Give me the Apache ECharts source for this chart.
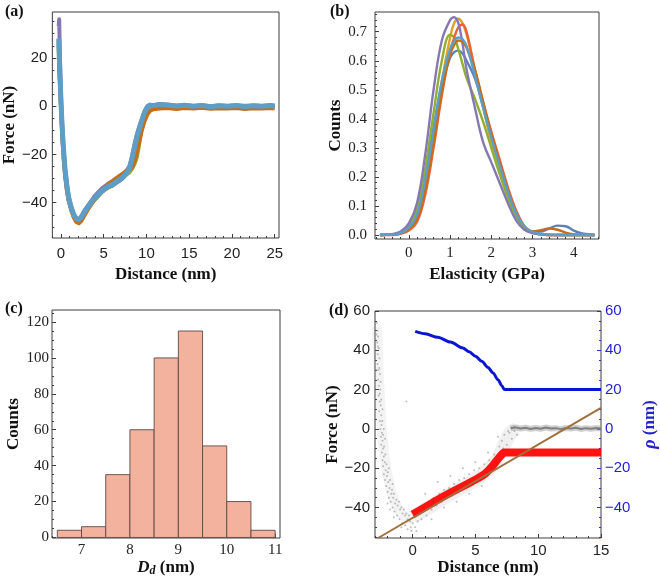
<!DOCTYPE html>
<html><head><meta charset="utf-8">
<script src="https://cdn.jsdelivr.net/npm/echarts@6/dist/echarts.min.js"></script>
<style>html,body{margin:0;padding:0;background:#fff}#c{width:660px;height:585px}</style>
</head><body><div id="c"></div><script>
// ---------- Panel (a): force curves ----------
const distA = [-0.25,-0.2,-0.1,0,0.1,0.2,0.35,0.5,0.7,0.9,1.2,1.5,1.8,2.1,2.4,2.8,3.2,3.6,4.0,4.4,4.8,5.2,5.6,6.0,6.4,6.8,7.2,7.6,8.0,8.3,8.6,8.9,9.2,9.5,9.8,10.1,10.4,10.8,11.5,12.5,13.5,14.5,15.5,16.5,17.5,18.5,19.5,20.5,21.5,22.5,23.5,24.5,25];
const forceBlue = [27,20,11,2,-6,-13,-21,-28,-34,-38.5,-42.5,-45.5,-47,-47.5,-46.5,-44,-42,-40,-38.5,-37,-35.5,-34.5,-33.5,-33,-32,-31,-30,-28.5,-26.5,-23,-18,-13.5,-9.5,-6,-3,-1,0,0,0.5,0.3,0,0.3,-0.1,0.2,0,0.1,-0.2,0.2,0,0.1,-0.1,0.2,0];
const forceGreen = [26,20,10,1,-7,-14,-22,-28,-34,-38.5,-42.5,-45.5,-47.5,-48,-47,-44.5,-42,-40,-38.5,-37,-35.5,-34.5,-33.5,-32.5,-31.5,-30.5,-29.5,-28.5,-27.5,-26,-24,-21,-14.5,-7.5,-3,-1,0,0.2,0.3,0.1,0,0.2,-0.1,0.1,0,0.2,-0.1,0,0.2,0,0.1,0,0.1];
const forcePurple = [33,36,18,5,-4,-11,-19,-26,-32,-37,-41.5,-44.5,-46.5,-47,-45.5,-43,-41,-39,-37,-35.5,-34,-33,-32,-31.5,-30.5,-29.5,-28.5,-27,-25,-21,-16,-11.5,-8,-5,-2,0,0.6,0.4,0.8,0.6,0.2,0.5,0.1,0.4,0,0.3,0.1,0.4,0,0.3,0.1,0.4,0.2];
const forceOrange = [25,17,8,0,-8,-15,-23,-29,-35,-39,-43,-46,-48,-48.5,-47.5,-45,-42.5,-40.5,-38.5,-36.5,-35,-33.5,-32,-31,-30,-29,-28,-27,-26.5,-25.5,-23,-19,-14,-9.5,-6,-3.5,-2,-1.3,-1,-0.8,-1.2,-0.8,-1,-0.7,-1.1,-0.9,-1,-0.8,-1.2,-0.9,-1,-0.8,-1];
const forceLightBlue = [28,22,12,3,-5,-12,-20,-27,-33,-38,-42,-45,-46.5,-47,-46,-43.5,-41.5,-39.5,-38,-36.5,-35,-34,-33,-32.5,-31.5,-30.5,-29.5,-28,-26,-22,-17,-12.5,-9,-5.5,-2.5,-0.5,0.4,0.2,0.7,0.5,0.1,0.4,0,0.3,-0.2,0.2,0,0.3,-0.1,0.2,0,0.3,0];
const xTicksA = [0,5,10,15,20,25];
const yTicksA = [-40,-20,0,20];

// ---------- Panel (b): elasticity distributions ----------
const elastX = [-0.7,-0.4,-0.2,0,0.2,0.4,0.6,0.8,1.0,1.1,1.2,1.3,1.4,1.6,1.8,2.0,2.2,2.4,2.6,2.8,3.0,3.2,3.4,3.6,3.8,4.0,4.2,4.5];
const distBlue   = [0,0.001,0.007,0.03,0.08,0.2,0.37,0.52,0.61,0.63,0.635,0.625,0.6,0.54,0.44,0.33,0.23,0.14,0.07,0.028,0.012,0.012,0.022,0.032,0.03,0.015,0.005,0];
const distYellow = [0,0.001,0.005,0.02,0.06,0.17,0.34,0.53,0.68,0.73,0.745,0.73,0.69,0.57,0.44,0.32,0.22,0.13,0.065,0.025,0.008,0.002,0,0,0,0,0,0];
const distGreen  = [0,0.002,0.008,0.03,0.09,0.23,0.42,0.6,0.69,0.68,0.64,0.59,0.54,0.47,0.39,0.3,0.21,0.13,0.065,0.025,0.008,0.002,0,0,0,0,0,0];
const distRed    = [0,0,0.004,0.015,0.045,0.14,0.3,0.48,0.63,0.68,0.715,0.725,0.7,0.57,0.455,0.355,0.26,0.165,0.085,0.03,0.008,0.002,0,0,0,0,0,0];
const distPurple = [0,0.003,0.012,0.04,0.11,0.28,0.5,0.67,0.74,0.75,0.73,0.66,0.57,0.44,0.32,0.25,0.18,0.11,0.05,0.018,0.006,0.002,0,0,0,0,0,0];
const distOrange = [0,0.001,0.005,0.02,0.055,0.16,0.32,0.5,0.62,0.655,0.67,0.665,0.645,0.57,0.46,0.35,0.25,0.155,0.08,0.03,0.012,0.016,0.022,0.018,0.008,0.002,0,0];
const distCyan   = [0,0.001,0.006,0.025,0.07,0.19,0.36,0.53,0.64,0.67,0.68,0.675,0.65,0.55,0.44,0.335,0.24,0.15,0.075,0.03,0.01,0.004,0.001,0,0,0,0,0];
const xTicksB = [0,1,2,3,4];
const yTicksB = [0,0.1,0.2,0.3,0.4,0.5,0.6,0.7];

// ---------- Panel (c): histogram ----------
const binEdgesC = [6.5,7,7.5,8,8.5,9,9.5,10,10.5,11];
const countsC = [4,6,35,60,100,115,51,20,4];
const xTicksC = [7,8,9,10,11];
const yTicksC = [0,20,40,60,80,100,120];

// ---------- Panel (d): fit ----------
const scatterD = [[-2.85,54],[-2.8,50],[-2.75,47],[-2.82,44],[-2.7,41],[-2.78,38],[-2.65,36],[-2.8,33],[-2.72,30],[-2.6,28],[-2.75,25],[-2.68,22],[-2.58,20],[-2.7,17],[-2.62,14],[-2.55,12],[-2.66,9],[-2.5,7],[-2.6,4],[-2.48,2],[-2.57,0],[-2.45,-2],[-2.52,-4],[-2.4,-6],[-2.5,-8],[-2.35,-10],[-2.45,-12],[-2.3,-14],[-2.4,-16],[-2.22,-17],[-2.35,-19],[-2.15,-21],[-2.3,-23],[-2.05,-24],[-2.2,-26],[-1.95,-27],[-2.1,-29],[-1.85,-30],[-2.0,-32],[-1.7,-33],[-1.9,-35],[-1.55,-35],[-1.75,-37],[-1.4,-38],[-1.6,-40],[-1.2,-39],[-1.45,-42],[-1.0,-41],[-1.25,-44],[-0.8,-43],[-1.05,-46],[-0.6,-44],[-0.85,-48],[-0.4,-46],[-0.6,-49],[-0.2,-47],[-0.4,-51],[0,-48],[-0.1,-52],[0.2,-50],[0.4,-47],[0.3,-52],[-2.4,10],[-2.2,-5],[-1.9,-20],[-1.6,-28],[-0.5,14],[-2.9,30],[-2.3,0],
[0.5,-41],[0.7,-46],[0.9,-40],[1.1,-44],[1.3,-37],[1.5,-41],[1.7,-35],[1.9,-39],[2.1,-33],[2.3,-37],[2.5,-31],[2.7,-35],[2.9,-30],[3.1,-34],[3.3,-28],[3.5,-32],[3.7,-26],[3.9,-31],[4.1,-25],[4.3,-29],[4.5,-23],[4.7,-27],[4.9,-21],[5.1,-26],[5.3,-20],[5.5,-24],[5.7,-18],[5.9,-22],[6.1,-16],[6.3,-20],[6.5,-13],[6.7,-17],[6.9,-9],[7.1,-6],[7.3,-3],[7.5,-8],[7.7,-2],[7.9,-5],[8.1,-1],[2,-27],[3,-24],[4,-20],[1,-33],[5,-17],[6,-12],[6.8,-4],[7.2,-10],[7.6,-1],[8.3,-3],[1.5,-46],[2.5,-40],[3.5,-37],[4.5,-33],[5.5,-29],
[-2.88,48],[-2.77,42],[-2.66,31],[-2.55,24],[-2.62,18],[-2.5,15],[-2.42,4],[-2.36,-3],[-2.28,-9],[-2.18,-13],[-2.08,-18],[-1.98,-22],[-1.8,-26],[-1.65,-31],[-1.5,-33],[-1.3,-36],[-1.1,-37],[-0.9,-40],[-0.7,-41],[-0.5,-43],[-0.3,-44],[-0.15,-50],[0.1,-45],[-1.5,-45],[-1.8,-41],[-2.0,-38],[-0.9,-50]];
const bandUpX = [0,1,2,3,4,5,6,6.8,7.3,7.8,8.3];
const bandUpY = [-45,-41,-37,-33,-29.5,-26,-21,-15,-8,-2,0];
const bandDownX = [-2.85,-2.75,-2.6,-2.4,-2.1,-1.7,-1.2,-0.6,0];
const bandDownY = [52,35,15,-5,-20,-32,-40,-45,-46];
const plateauX = [7.8,8.2,8.6,9,9.4,9.8,10.2,10.6,11,11.4,11.8,12.2,12.6,13,13.4,13.8,14.2,14.6,15];
const plateauY = [0.3,0.8,0.2,0.6,0,0.5,0.1,0.7,0.2,0.4,-0.1,0.5,0.2,0.6,0,0.4,0.1,0.5,0.2];
const fitX = [0,1,2,3,4,5,5.8,6.4,6.9,7.3,15];
const fitY = [-43.5,-39.8,-36,-32.5,-29.2,-25.8,-22.6,-18.5,-14.5,-12,-12];
const lineX = [-2.75,15];
const lineY = [-55.5,10.7];
const rhoX = [0.2,1,2,3,4,4.5,5,5.5,6,6.4,6.8,7.1,7.3,15];
const rhoY = [49.6,48.4,46.6,44.2,41.2,39.3,37,34.4,31.3,28.5,25,22,20,20];
const xTicksD = [0,5,10,15];
const yTicksD = [-40,-20,0,20,40,60];

// ---------- helpers ----------
const zip = (xs, ys) => xs.map((x, i) => [x, ys[i]]);
function range(a, b, s) { const r = []; for (let v = a; v <= b + 1e-9; v += s) r.push(+v.toFixed(4)); return r; }
const SANS = "'Liberation Sans', Arial, sans-serif";
const SERIF = "'Liberation Serif', 'Times New Roman', serif";
const FRAME = '#3c3c3c';
const titleStyle = { fontFamily: SERIF, fontWeight: 'bold', fontSize: 17, color: '#111' };
const fmt = d => v => (d ? v.toFixed(d) : String(Math.round(v))).replace('-', '\u2212');

const xAxes = [], yAxes = [];
function addAxes(list, o) {
  const base = { type: 'value', gridIndex: o.gi, position: o.pos, min: o.min, max: o.max,
    axisLine: { show: false, onZero: false }, splitLine: { show: false } };
  const idx = list.length;
  list.push(Object.assign({}, base, {
    axisTick: { show: true, inside: true, length: 4, customValues: o.major, lineStyle: { color: o.tickColor || FRAME, width: 1 } },
    axisLabel: { show: true, customValues: o.major, formatter: fmt(o.dec || 0), fontFamily: o.font, fontSize: 15,
      color: o.labelColor || '#222', margin: o.margin },
    name: o.name, nameLocation: 'middle', nameGap: o.nameGap, nameRotate: o.nameRotate,
    nameTextStyle: Object.assign({}, titleStyle, o.nameStyle || {})
  }));
  list.push(Object.assign({}, base, {
    axisTick: { show: true, inside: true, length: 2, customValues: o.minor, lineStyle: { color: o.tickColor || FRAME, width: 1 } },
    axisLabel: { show: false }
  }));
  return idx;
}

const grids = [
  { left: 52, top: 12, width: 227, height: 226 },
  { left: 375, top: 12, width: 224, height: 227 },
  { left: 52, top: 310, width: 228, height: 228 },
  { left: 375, top: 311, width: 227, height: 227 }
].map(g => Object.assign(g, { show: true, borderColor: FRAME, borderWidth: 1, backgroundColor: 'transparent', containLabel: false }));

// (a)
const xa = addAxes(xAxes, { gi: 0, pos: 'bottom', min: -1, max: 25.5, major: xTicksA, minor: range(-1, 25, 1), font: SANS, margin: 8, name: 'Distance (nm)', nameGap: 28 });
const ya = addAxes(yAxes, { gi: 0, pos: 'left', min: -54.6, max: 39, major: yTicksA, minor: range(-50, 35, 5), font: SANS, margin: 5, name: 'Force (nN)', nameGap: 34 });
// (b)
const xb = addAxes(xAxes, { gi: 1, pos: 'bottom', min: -0.82, max: 4.61, major: xTicksB, minor: range(-0.8, 4.6, 0.2), font: SERIF, margin: 7, name: 'Elasticity (GPa)', nameGap: 27 });
const yb = addAxes(yAxes, { gi: 1, pos: 'left', min: -0.014, max: 0.768, major: yTicksB, minor: range(0, 0.76, 0.02), font: SERIF, margin: 8, dec: 1, name: 'Counts', nameGap: 28 });
// (c)
const xc = addAxes(xAxes, { gi: 2, pos: 'bottom', min: 6.39, max: 11.1, major: xTicksC, minor: range(6.4, 11, 0.2), font: SERIF, margin: 5,
  name: '{i|D}{s|d}{n| (nm)}', nameGap: 18,
  nameStyle: { rich: {
    i: { fontFamily: SERIF, fontWeight: 'bold', fontStyle: 'italic', fontSize: 17, color: '#111' },
    s: { fontFamily: SERIF, fontWeight: 'bold', fontStyle: 'italic', fontSize: 12, color: '#111', padding: [7, 0, 0, 0] },
    n: { fontFamily: SERIF, fontWeight: 'bold', fontSize: 17, color: '#111' } } } });
const yc = addAxes(yAxes, { gi: 2, pos: 'left', min: -0.3, max: 126.7, major: yTicksC, minor: range(0, 125, 5), font: SERIF, margin: 3, name: 'Counts', nameGap: 30 });
// (d)
const xd = addAxes(xAxes, { gi: 3, pos: 'bottom', min: -3, max: 15, major: xTicksD, minor: range(-3, 15, 1), font: SANS, margin: 5, name: 'Distance (nm)', nameGap: 18 });
const yd = addAxes(yAxes, { gi: 3, pos: 'left', min: -55.5, max: 60, major: yTicksD, minor: range(-55, 60, 5), font: SANS, margin: 5, name: 'Force (nN)', nameGap: 27 });
const yd2 = addAxes(yAxes, { gi: 3, pos: 'right', min: -55.5, max: 60, major: yTicksD, minor: range(-55, 60, 5), font: SANS, margin: 4,
  tickColor: '#2a2ad0', labelColor: '#2424cc', name: '{r|\u03c1}{n| (nm)}', nameGap: 40, nameRotate: 90,
  nameStyle: { color: '#2424cc', rich: {
    r: { fontFamily: SERIF, fontWeight: 'bold', fontStyle: 'italic', fontSize: 18, color: '#2424cc' },
    n: { fontFamily: SERIF, fontWeight: 'bold', fontSize: 17, color: '#2424cc' } } } });

const series = [];
// (a)
[['#5E81B5', forceBlue], ['#8FB032', forceGreen], ['#8778B3', forcePurple], ['#C56E1A', forceOrange], ['#5D9EC7', forceLightBlue]].forEach(([c, d], k) => {
  series.push({ type: 'line', xAxisIndex: xa, yAxisIndex: ya, data: zip(distA, d), showSymbol: false, silent: true,
    lineStyle: { color: c, width: k === 4 ? 5 : 4, join: 'round' }, z: 2 + k });
});
// (b)
[['#5E81B5', distBlue], ['#E0A030', distYellow], ['#8FB032', distGreen], ['#EB6235', distRed], ['#8778B3', distPurple], ['#C56E1A', distOrange], ['#5D9EC7', distCyan]].forEach(([c, d], k) => {
  series.push({ type: 'line', xAxisIndex: xb, yAxisIndex: yb, data: zip(elastX, d), showSymbol: false, smooth: 0.4, silent: true,
    lineStyle: { color: c, width: 2.4 }, z: 2 + k });
});
// (c)
series.push({ type: 'custom', xAxisIndex: xc, yAxisIndex: yc, silent: true,
  data: countsC.map((v, i) => [binEdgesC[i], binEdgesC[i + 1], v]),
  renderItem: (params, api) => {
    const p0 = api.coord([api.value(0), api.value(2)]);
    const p1 = api.coord([api.value(1), 0]);
    return { type: 'rect', shape: { x: p0[0], y: p0[1], width: p1[0] - p0[0], height: p1[1] - p0[1] },
      style: { fill: '#F2B29D', stroke: '#5e4a44', lineWidth: 0.9 } };
  } });
// (d)
series.push({ type: 'line', xAxisIndex: xd, yAxisIndex: yd, data: zip(bandDownX, bandDownY), showSymbol: false, smooth: 0.3, silent: true,
  lineStyle: { color: 'rgba(160,160,160,0.13)', width: 10 }, z: 1 });
series.push({ type: 'line', xAxisIndex: xd, yAxisIndex: yd, data: zip(bandUpX, bandUpY), showSymbol: false, smooth: 0.3, silent: true,
  lineStyle: { color: 'rgba(160,160,160,0.16)', width: 14 }, z: 1 });
series.push({ type: 'scatter', xAxisIndex: xd, yAxisIndex: yd, data: scatterD, symbolSize: 2, silent: true,
  itemStyle: { color: 'rgba(120,120,120,0.6)' }, z: 2 });
series.push({ type: 'line', xAxisIndex: xd, yAxisIndex: yd, data: zip(plateauX, plateauY), showSymbol: false, silent: true,
  lineStyle: { color: 'rgba(150,150,150,0.45)', width: 6 }, z: 2 });
series.push({ type: 'line', xAxisIndex: xd, yAxisIndex: yd, data: zip(plateauX, plateauY), showSymbol: false, silent: true,
  lineStyle: { color: '#808080', width: 2 }, z: 3 });
series.push({ type: 'line', xAxisIndex: xd, yAxisIndex: yd, data: zip(fitX, fitY), showSymbol: false, smooth: 0.2, silent: true,
  lineStyle: { color: 'rgba(255,0,0,0.92)', width: 8 }, z: 4 });
series.push({ type: 'line', xAxisIndex: xd, yAxisIndex: yd, data: zip(lineX, lineY), showSymbol: false, silent: true,
  lineStyle: { color: '#A0703C', width: 2 }, z: 5 });
series.push({ type: 'line', xAxisIndex: xd, yAxisIndex: yd2, data: zip(rhoX, rhoY), showSymbol: false, smooth: 0.3, smoothMonotone: 'x', silent: true,
  lineStyle: { color: '#0a14d2', width: 3 }, z: 6 });

const panelLabel = (t, x, y) => ({ type: 'text', left: x, top: y, style: { text: t, font: "bold 16px 'Liberation Serif', serif", fill: '#111' } });

const chart = echarts.init(document.getElementById('c'), null, { renderer: 'canvas' });
chart.setOption({
  animation: false,
  backgroundColor: '#fff',
  grid: grids,
  xAxis: xAxes,
  yAxis: yAxes,
  series: series,
  graphic: [panelLabel('(a)', 5, 4), panelLabel('(b)', 330, 4), panelLabel('(c)', 5, 301), panelLabel('(d)', 329, 303)]
});
</script></body></html>
